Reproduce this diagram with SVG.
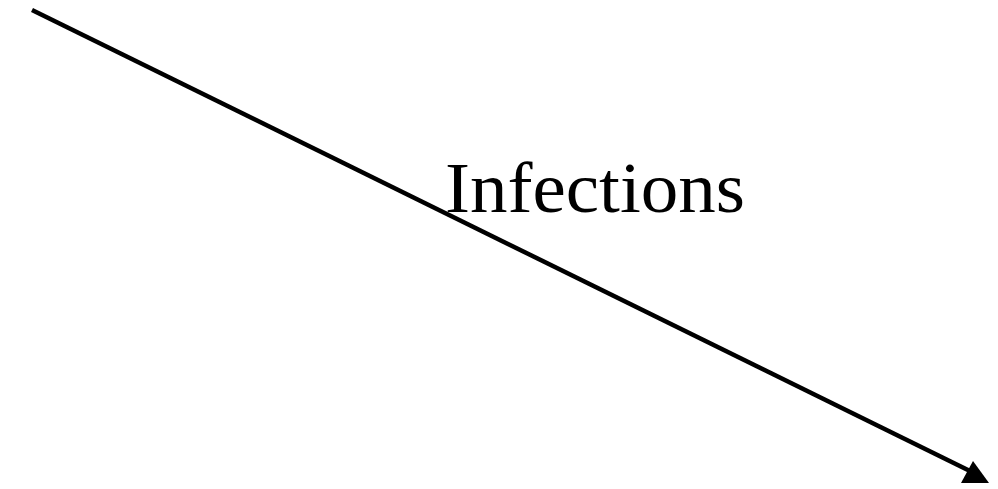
<svg xmlns="http://www.w3.org/2000/svg" width="998" height="489" viewBox="0 0 998 489">
<style>
.lbl{font-family:"Liberation Serif","Times New Roman",serif;font-size:72px;fill:#000}
.conn{stroke:#000;stroke-width:4.5;fill:none}
</style>
<rect width="998" height="489" fill="#fff"/>
<g id="connectors">
<line class="conn" x1="32" y1="10" x2="972" y2="472"/>
<polygon points="961,483 989,483 973,461" fill="#000"/>
</g>
<g id="label-infections">
<text class="lbl" x="445" y="212" textLength="300" lengthAdjust="spacingAndGlyphs">Infections</text>
</g>
</svg>
